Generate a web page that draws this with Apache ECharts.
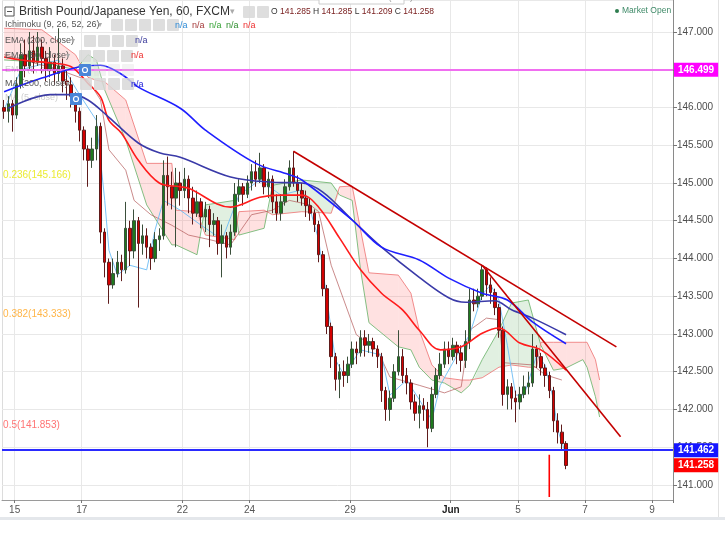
<!DOCTYPE html>
<html><head><meta charset="utf-8">
<script src="https://cdn.jsdelivr.net/npm/echarts/dist/echarts.min.js"></script>
<style>html,body{margin:0;padding:0;background:#fff}#c{width:725px;height:543px}</style>
</head><body><div id="c"></div>
<script>
// ---- axis / labels ----
const slotCount = 160;            // 3-hour slots
const firstDaySlot = 3;
const slotsPerDay = 8;
const dayLabels = ['15','17','22','24','29','Jun','5','7','9'];
const dayIndex  = [0,2,5,7,10,13,15,17,19];   // trading-day index

// ---- candles (3-hour bars) ----
const opens = [146.00,145.95,146.05,145.90,146.30,146.70,146.55,146.75,146.60,146.80,
146.65,146.50,146.60,146.45,146.55,146.35,146.30,146.15,145.95,145.70,
145.45,145.30,145.45,145.75,144.35,143.95,143.65,143.80,143.95,143.85,
144.40,144.10,144.50,144.20,144.30,144.15,144.00,144.25,144.30,145.10,
144.95,144.80,145.00,144.90,145.05,144.80,144.60,144.75,144.55,144.65,
144.45,144.50,144.20,144.30,144.15,144.35,144.85,144.95,144.85,145.00,
145.15,145.05,145.20,144.95,145.05,144.75,144.60,144.75,144.95,145.20,
145.00,144.90,144.80,144.70,144.60,144.45,144.05,143.60,143.10,142.70,
142.40,142.50,142.45,142.60,142.80,142.75,142.95,142.85,142.90,142.80,
142.70,142.25,142.00,142.15,142.50,142.70,142.45,142.35,142.10,141.95,
142.05,142.00,141.75,142.20,142.45,142.60,142.80,142.70,142.85,142.75,
142.65,142.90,143.45,143.40,143.50,143.85,143.65,143.55,143.35,143.05,
142.20,142.30,142.15,142.10,142.20,142.30,142.35,142.80,142.70,142.55,
142.45,142.25,141.85,141.70,141.55];
const closes = [145.95,146.05,145.90,146.30,146.70,146.55,146.75,146.60,146.80,146.65,
146.50,146.60,146.45,146.55,146.35,146.30,146.15,145.95,145.70,145.45,
145.30,145.45,145.75,144.35,143.95,143.65,143.80,143.95,143.85,144.40,
144.10,144.50,144.20,144.30,144.15,144.00,144.25,144.30,145.10,144.95,
144.80,145.00,144.90,145.05,144.80,144.60,144.75,144.55,144.65,144.45,
144.50,144.20,144.30,144.15,144.35,144.85,144.95,144.85,145.00,145.15,
145.05,145.20,144.95,145.05,144.75,144.60,144.75,144.95,145.20,145.00,
144.90,144.80,144.70,144.60,144.45,144.05,143.60,143.10,142.70,142.40,
142.50,142.45,142.60,142.80,142.75,142.95,142.85,142.90,142.80,142.70,
142.25,142.00,142.15,142.50,142.70,142.45,142.35,142.10,141.95,142.05,
142.00,141.75,142.20,142.45,142.60,142.80,142.70,142.85,142.75,142.65,
142.90,143.45,143.40,143.50,143.85,143.65,143.55,143.35,143.05,142.20,
142.30,142.15,142.10,142.20,142.30,142.35,142.80,142.70,142.55,142.45,
142.25,141.85,141.70,141.55,141.258];
const highs = [146.10,146.15,146.10,146.40,146.85,146.90,147.00,146.95,147.00,146.90,
146.75,146.80,146.70,147.05,146.65,146.50,146.40,146.20,146.00,145.75,
145.50,145.60,145.90,145.80,144.40,144.00,144.00,144.10,144.05,144.75,
144.50,144.65,144.55,144.45,144.40,144.20,144.35,144.40,145.30,145.35,
145.15,145.20,145.15,145.20,145.10,144.95,144.90,144.80,144.75,144.70,
144.60,144.55,144.45,144.35,144.45,145.00,145.05,145.00,145.10,145.25,
145.30,145.40,145.25,145.15,145.10,144.85,144.85,145.05,145.30,145.42,
145.10,145.00,144.90,144.80,144.65,144.50,144.10,143.65,143.15,142.75,
142.60,142.65,142.70,142.90,142.90,143.05,143.05,143.00,142.95,142.85,
142.75,142.30,142.25,142.60,143.05,142.80,142.55,142.40,142.20,142.20,
142.15,142.10,142.30,142.55,142.75,142.90,142.90,142.95,142.90,142.85,
143.05,143.60,143.60,143.60,143.92,143.88,143.75,143.60,143.40,143.10,
142.40,142.35,142.25,142.30,142.45,142.50,143.00,142.85,142.75,142.60,
142.50,142.30,141.95,141.80,141.58];
const lows = [145.85,145.80,145.68,145.85,146.25,146.40,146.50,146.45,146.55,146.45,
146.35,146.40,146.30,146.35,146.20,146.10,146.00,145.80,145.55,145.30,
144.95,145.20,145.30,144.20,143.75,143.40,143.60,143.75,143.70,143.80,
143.90,144.00,143.35,144.05,144.00,143.85,143.95,144.10,144.25,144.70,
144.65,144.15,144.70,144.80,144.60,144.45,144.55,144.40,144.35,144.15,
144.30,144.05,143.75,144.00,144.05,144.30,144.75,144.70,144.80,144.90,
144.95,145.00,144.85,144.80,144.60,144.50,144.50,144.70,144.90,144.95,
144.75,144.70,144.55,144.50,144.35,143.95,143.50,143.00,142.55,142.25,
142.15,142.30,142.35,142.55,142.60,142.70,142.70,142.75,142.70,142.55,
142.10,141.85,141.85,142.10,142.45,142.35,142.20,142.00,141.85,141.75,
141.85,141.50,141.70,142.15,142.40,142.55,142.60,142.65,142.60,142.50,
142.55,142.80,143.30,143.35,143.45,143.50,143.40,143.25,142.95,142.05,
142.00,142.00,141.83,142.00,142.15,142.20,142.30,142.55,142.45,142.30,
142.15,141.70,141.55,141.45,141.209];

// ---- Ichimoku cloud (read at sample slots) ----
const cloudSlots = [0,9,17,20,22,24,29,34,40,41,46,48,55,56,62,64,71,78,80,83,85,87,94,97,99,102,105,109,111,114,118,121,125,127,128,131,134,138,139,141,142];
const spanA = [146.63,146.60,146.50,146.70,146.63,146.23,145.57,144.71,144.18,144.18,144.05,144.71,144.77,144.31,144.40,144.97,145.04,145.00,144.84,144.77,143.85,143.15,142.83,142.79,142.56,142.39,142.35,142.22,142.32,142.66,143.05,143.41,143.45,143.05,142.85,142.52,142.55,142.66,142.56,142.17,141.90];
const spanB = [147.05,147.03,146.70,146.40,146.36,146.34,146.10,145.26,145.26,144.64,144.62,144.31,144.25,144.62,144.64,144.58,144.62,144.60,144.95,144.96,144.38,143.81,143.78,143.54,143.05,142.59,142.42,142.39,142.39,142.42,142.56,142.59,142.56,142.56,142.89,142.89,142.89,142.89,142.89,142.66,142.39];

const kijunSlots = [0,13,20,23,25,29,31,35,40,44,49,54,59,64,68,73,75,78,81,84,89,92,99,105,109,111,115,118,119,126,129,133];
const kijunVals  = [146.70,146.50,146.36,146.10,145.44,145.17,144.77,144.58,144.44,144.31,144.25,144.18,144.58,144.64,144.77,144.71,144.62,143.91,143.45,142.99,142.79,142.43,142.32,142.22,142.30,143.05,143.21,143.19,142.62,142.59,142.46,142.39];
const tenkanSlots = [0,4,13,18,22,24,25,27,30,34,36,38,42,47,52,56,61,66,71,73,75,77,79,81,85,90,92,96,99,102,104,108,111,114,116,118,120,122,124,127,129,131,132,134];
const tenkanVals  = [145.97,146.50,146.63,146.17,145.83,144.77,144.11,143.78,143.91,143.85,144.38,144.77,144.64,144.44,144.25,144.84,145.04,144.84,144.91,144.64,144.25,143.45,142.66,142.46,142.79,142.72,142.19,142.39,142.13,141.86,142.32,142.72,142.99,143.52,143.65,143.45,142.85,142.19,142.19,142.72,142.59,142.13,141.73,141.40];

// ---- moving averages ----
const emaFastSlots = [0,4,11,16,20,23,25,28,32,37,42,44,54,61,66,71,75,80,85,90,95,99,104,109,114,118,123,128,134];
const emaFastVals  = [146.67,146.63,146.59,146.54,146.32,146.14,145.83,145.66,145.30,145.00,144.95,144.93,144.68,144.81,144.84,144.84,144.68,144.27,143.85,143.54,143.32,143.05,142.79,142.83,143.01,143.08,142.88,142.79,142.52];
const ema200Slots = [0,9,18,23,28,32,42,48,60,68,71,83,90,99,106,114,120,126,134];
const ema200Vals  = [146.21,146.39,146.54,146.56,146.44,146.27,145.99,145.70,145.26,145.11,145.04,144.51,144.15,143.98,143.74,143.54,143.45,143.16,142.87];
const ma200Slots = [1,11,16,20,25,32,37,42,54,64,71,76,83,90,99,106,110,117,121,126,134];
const ma200Vals  = [145.99,146.17,146.17,146.10,145.87,145.53,145.40,145.34,145.08,145.01,145.00,144.88,144.51,144.15,143.75,143.48,143.42,143.44,143.32,143.21,142.99];

// ---- drawings ----
const trend1Slots = [69,146], trend1Vals = [145.42,142.83];
const trend2Slots = [114,147], trend2Vals = [143.91,141.64];
const spikeSlots = [130,130], spikeVals = [141.40,140.84];
const hLevelMagenta = 146.499, hLevelBlue = 141.462, lastPrice = 141.258;
const fibNames = ['0.236(145.166)','0.382(143.333)','0.5(141.853)'];
const fibLevels = [145.166,143.333,141.853];

// ---- build ----
const categories = Array.from({length: slotCount}, (_, i) => {
  const k = dayIndex.findIndex(d => firstDaySlot + d * slotsPerDay === i);
  return k >= 0 ? dayLabels[k] : '';
});
const isDay = (i) => categories[i] !== '';
const pairs = (s, v) => s.map((x, i) => [x, v[i]]);
const candleData = opens.map((o, i) => [o, closes[i], lows[i], highs[i]]);

const FONT = 'Liberation Sans, Arial, sans-serif';

function cloudItem(params, api) {
  const i = params.dataIndex;
  if (i >= cloudSlots.length - 1) return null;
  const s0 = cloudSlots[i], s1 = cloudSlots[i+1];
  const a0 = spanA[i], a1 = spanA[i+1], b0 = spanB[i], b1 = spanB[i+1];
  const d0 = a0 - b0, d1 = a1 - b1;
  const green = 'rgba(70,160,70,0.16)', pink = 'rgba(255,90,90,0.18)';
  const poly = (pts, col) => ({type: 'polygon', silent: true, shape: {points: pts.map(p => api.coord(p))}, style: {fill: col}});
  if (d0 * d1 >= 0) {
    return poly([[s0,a0],[s1,a1],[s1,b1],[s0,b0]], (d0 + d1) >= 0 ? green : pink);
  }
  const t = d0 / (d0 - d1);
  const sx = s0 + t * (s1 - s0), v = a0 + t * (a1 - a0);
  return {type: 'group', children: [
    poly([[s0,a0],[sx,v],[s0,b0]], d0 > 0 ? green : pink),
    poly([[sx,v],[s1,a1],[s1,b1]], d1 > 0 ? green : pink)
  ]};
}

const lineS = (data, color, width, z, opacity, smooth) => ({
  type: 'line', data, symbol: 'none', silent: true, z: z || 3, smooth: smooth || false,
  lineStyle: {color, width, opacity: opacity == null ? 1 : opacity}, animation: false
});

const chart = echarts.init(document.getElementById('c'), null, {renderer: 'canvas'});

// graphic helpers for header chrome
const G = [];
const txt = (x, y, text, size, color, extra) => G.push(Object.assign({type: 'text', x, y, silent: true, z: 100,
  style: Object.assign({text, fontSize: size, fill: color, fontFamily: FONT, verticalAlign: 'middle'}, extra || {})}));
const btn = (x, y, op) => G.push({type: 'rect', x, y, shape: {width: 12, height: 12, r: 1}, silent: true, z: 99,
  style: {fill: '#d8d8d8', opacity: op == null ? 0.85 : op}});
const btnRow = (x0, y, n, op) => { for (let k = 0; k < n; k++) btn(x0 + k * 14, y - 6, op); };

// header
G.push({type: 'rect', x: 5, y: 7, shape: {width: 9, height: 9}, silent: true, z: 100, style: {fill: '#fff', stroke: '#555', lineWidth: 1}});
G.push({type: 'line', shape: {x1: 7, y1: 11.5, x2: 12, y2: 11.5}, silent: true, z: 101, style: {stroke: '#555', lineWidth: 1}});
txt(19, 12, 'British Pound/Japanese Yen, 60, FXCM', 12, '#333');
txt(230, 12, '▾', 9, '#aaa');
btnRow(243, 12, 2);
G.push({type: 'text', x: 271, y: 12, silent: true, z: 100, style: {
  text: '{l|O} {v|141.285} {l|H} {v|141.285} {l|L} {v|141.209} {l|C} {v|141.258}', fontSize: 8.5, fontFamily: FONT, verticalAlign: 'middle',
  rich: {l: {fill: '#333', fontSize: 8.5, fontFamily: FONT}, v: {fill: '#7a2020', fontSize: 8.5, fontFamily: FONT}}}});
// exit full screen box (cut off at top)
G.push({type: 'rect', x: 319, y: -10, shape: {width: 85, height: 14}, silent: true, z: 100, style: {fill: '#fff', stroke: '#ccc'}});
txt(323, -2, 'Exit Full Screen (ESC)', 9, '#999');
// market open
G.push({type: 'circle', shape: {cx: 617, cy: 11, r: 2}, silent: true, z: 100, style: {fill: '#2e7d4f'}});
txt(622, 11, 'Market Open', 8.5, '#3f8a68');

// indicator legend rows
txt(5, 25, 'Ichimoku (9, 26, 52, 26)', 9, '#555');
txt(98, 25, '▾', 8, '#aaa');
btnRow(111, 25, 5);
const naColors1 = ['#2e8bd6','#a53a3a','#36a336','#2f8f2f','#ee3030'];
naColors1.forEach((c, k) => txt(175 + k * 17, 26, 'n/a', 9, c));
txt(5, 41, 'EMA (200, close)', 9, '#555');
txt(71, 41, '▾', 8, '#aaa');
btnRow(84, 41, 4);
txt(135, 41, 'n/a', 9, '#3a3a9a');
txt(5, 56, 'EMA (50, close)', 9, '#555');
txt(66, 56, '▾', 8, '#aaa');
btnRow(79, 56, 4);
txt(131, 56, 'n/a', 9, '#ee3030');
txt(5, 70, 'EMA (5, close)', 9, '#555', {opacity: 0.3});
btnRow(80, 70, 4, 0.3);
txt(5, 84, 'MA (200, close)', 9, '#555');
txt(66, 84, '▾', 8, '#aaa');
btnRow(80, 84, 4);
txt(131, 85, 'n/a', 9, '#2424d8');
txt(5, 98, 'MA (5, close)', 9, '#555', {opacity: 0.3});
// blue eye markers on lines
[[79, 64], [70, 93]].forEach(p => {
  G.push({type: 'rect', x: p[0], y: p[1], shape: {width: 12, height: 12, r: 1}, silent: true, z: 100, style: {fill: '#4a86d8'}});
  G.push({type: 'circle', shape: {cx: p[0] + 6, cy: p[1] + 6, r: 2.5}, silent: true, z: 101, style: {fill: 'none', stroke: '#fff', lineWidth: 1.2}});
});
// frame bits
G.push({type: 'line', shape: {x1: 718.5, y1: 0, x2: 718.5, y2: 517}, silent: true, z: 0, style: {stroke: '#e2e2e2'}});
G.push({type: 'line', shape: {x1: 2.5, y1: 0, x2: 2.5, y2: 500}, silent: true, z: 0, style: {stroke: '#dcdcdc'}});
G.push({type: 'rect', x: 0, y: 517, shape: {width: 725, height: 3}, silent: true, z: 0, style: {fill: '#e4e7eb'}});

const fibColors = ['#e6e600', '#ffa31a', '#ff5050'];

const option = {
  animation: false,
  backgroundColor: '#fff',
  textStyle: {fontFamily: FONT},
  grid: {left: 2, right: 52, top: 0, bottom: 43, containLabel: false},
  xAxis: {
    type: 'category', data: categories, boundaryGap: true,
    axisLine: {show: true, lineStyle: {color: '#9a9a9a'}},
    axisTick: {show: true, length: 3, interval: (i) => isDay(i), lineStyle: {color: '#777'}},
    axisLabel: {interval: (i) => isDay(i), fontSize: 10, color: '#555', margin: 5, padding: [0, 4, 0, 0],
      formatter: (v) => v === 'Jun' ? '{b|Jun}' : v,
      rich: {b: {fontSize: 10, color: '#222', fontWeight: 'bold', fontFamily: FONT}}},
    splitLine: {show: true, interval: (i) => isDay(i), lineStyle: {color: '#e8e8e8'}}
  },
  yAxis: {
    type: 'value', position: 'right', min: 140.801, max: 147.424, splitNumber: 13, scale: true,
    axisLine: {show: true, lineStyle: {color: '#8a8a8a'}},
    axisTick: {show: true, length: 4, lineStyle: {color: '#777'}},
    axisLabel: {fontSize: 10, color: '#4d4d4d', margin: 4, showMinLabel: false, showMaxLabel: false,
      formatter: (v) => v.toFixed(3)},
    splitLine: {show: true, lineStyle: {color: '#e8e8e8'}}
  },
  series: [
    {type: 'custom', renderItem: cloudItem, data: cloudSlots.map((s, i) => [s, spanA[i], spanB[i]]),
     encode: {x: 0, y: [1, 2]}, z: 1, silent: true, clip: true},
    lineS(pairs(cloudSlots, spanA), '#6fb56f', 1, 2, 0.85),
    lineS(pairs(cloudSlots, spanB), '#f08080', 1, 2, 0.9),
    lineS(pairs(kijunSlots, kijunVals), '#b35a5a', 1, 2, 0.7),
    lineS(pairs(tenkanSlots, tenkanVals), '#6bbcf5', 1, 2, 0.9),
    {
      type: 'candlestick', data: candleData, barWidth: 3, z: 4, silent: true,
      itemStyle: {color: '#1d7a1d', color0: '#d40000', borderColor: '#3b4f3b', borderColor0: '#5e1c1c', borderWidth: 1},
      markLine: {
        silent: true, symbol: ['none', 'none'], animation: false,
        label: {show: true, position: 'end', distance: 1, color: '#fff', fontSize: 10, fontWeight: 'bold',
          padding: [2, 4, 2, 4], fontFamily: FONT},
        data: [
          {yAxis: hLevelMagenta, lineStyle: {color: '#f06ef0', width: 2, type: 'solid'},
           label: {formatter: hLevelMagenta.toFixed(3), backgroundColor: '#ff00ff'}},
          {yAxis: hLevelBlue, lineStyle: {color: '#2a2aff', width: 2, type: 'solid'},
           label: {formatter: hLevelBlue.toFixed(3), backgroundColor: '#1515ff'}},
          {yAxis: lastPrice, lineStyle: {color: 'rgba(255,0,0,0)', width: 1, type: 'solid'},
           label: {formatter: lastPrice.toFixed(3), backgroundColor: '#ff0000', color: '#fff'}}
        ]
      }
    },
    lineS(pairs(emaFastSlots, emaFastVals), '#ff1c1c', 1.6, 5, 1, 0.35),
    lineS(pairs(ma200Slots, ma200Vals), '#3a3aa8', 1.6, 5, 1, 0.35),
    lineS(pairs(ema200Slots, ema200Vals), '#1f1fff', 1.6, 5, 1, 0.35),
    lineS(pairs(trend1Slots, trend1Vals), '#c40000', 1.6, 6),
    lineS(pairs(trend2Slots, trend2Vals), '#c40000', 1.6, 6),
    lineS(pairs(spikeSlots, spikeVals), '#ff0000', 1.6, 6),
    {
      type: 'scatter', symbolSize: 0, z: 7, silent: true,
      data: fibLevels.map((v, i) => ({value: [0, v], name: fibNames[i], label: {color: fibColors[i]}})),
      label: {show: true, position: [0, 0], align: 'left', verticalAlign: 'middle', offset: [-1, 5],
        fontSize: 10, fontFamily: FONT, formatter: (p) => p.name}
    }
  ],
  graphic: G
};
chart.setOption(option);
</script></body></html>
